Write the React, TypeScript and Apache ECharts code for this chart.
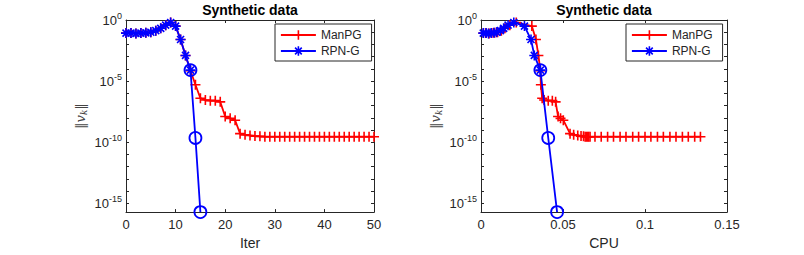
import React, { useEffect, useRef } from 'react';
import * as echarts from 'echarts';

// ---------- data (log10 of ||v_k||) ----------
const rpnIter = [0, 1, 2, 3, 4, 5, 6, 7, 8, 9, 10, 11, 12, 13, 14, 15];
const rpnExp = [-1.07, -1.07, -1.1, -1.07, -1.05, -1.0, -0.87, -0.68, -0.42, -0.2, -0.5, -1.6, -2.9, -4.1, -9.65, -15.72];
const rpnCpu = [0.0014, 0.003, 0.0046, 0.0062, 0.0078, 0.0095, 0.0118, 0.0138, 0.0165, 0.02, 0.0265, 0.0305, 0.0325, 0.0362, 0.041, 0.0464];
const rpnCircleFrom = 13;

const manpgIter = [
  0, 1, 2, 3, 4, 5, 6, 7, 8, 9, 10, 11, 12, 13, 14, 15, 16, 17, 18, 19, 20, 21, 22, 23, 24, 25,
  26, 27, 28, 29, 30, 31, 32, 33, 34, 35, 36, 37, 38, 39, 40, 41, 42, 43, 44, 45, 46, 47, 48, 49, 50,
];
const manpgExp = [
  -1.07, -1.07, -1.1, -1.07, -1.05, -1.0, -0.87, -0.68, -0.42, -0.2, -0.5, -1.6, -2.9,
  -4.15, -5.3, -6.4, -6.55, -6.6, -6.6, -6.7, -7.9, -8.05, -8.2, -9.3, -9.4, -9.45, -9.5, -9.52,
  -9.55, -9.55, -9.55, -9.55, -9.55, -9.55, -9.55, -9.55, -9.55, -9.55, -9.55, -9.55, -9.55,
  -9.55, -9.55, -9.55, -9.55, -9.55, -9.55, -9.55, -9.55, -9.55, -9.55,
];
const manpgCpu = [
  0.0015, 0.0032, 0.0049, 0.0066, 0.0083, 0.0101, 0.0124, 0.0146, 0.0176, 0.0215, 0.031, 0.0335, 0.035,
  0.0362, 0.0365, 0.0373, 0.0385, 0.041, 0.0435, 0.0455, 0.047, 0.0485, 0.0502, 0.0543, 0.0565, 0.059,
  0.061, 0.0625, 0.0635, 0.0643, 0.065, 0.0657, 0.0665, 0.0695, 0.0733, 0.0772, 0.0808, 0.0848, 0.0884,
  0.0925, 0.0961, 0.1, 0.1036, 0.1076, 0.1112, 0.1152, 0.1189, 0.1228, 0.1264, 0.1303, 0.1338,
];

const yBottomExp = -15.72;
const iterTicks = { min: 0, max: 50, interval: 10 };
const cpuTicks = { min: 0, max: 0.15, interval: 0.05 };
const titles = ['Synthetic data', 'Synthetic data'];
const xNames = ['Iter', 'CPU'];
const seriesNames = ['ManPG', 'RPN-G'];

// ---------- styling ----------
const RED = '#ff0000';
const BLUE = '#0000ff';
const AX = '#262626';
const FONT = "'Liberation Sans', Arial, Helvetica, sans-serif";
const PLUS = 'path://M0,-1L0,1M-1,0L1,0';
const STAR = 'path://M0,-1L0,1M-1,0L1,0M-0.7,-0.7L0.7,0.7M-0.7,0.7L0.7,-0.7';

const grids = [
  { left: 126, top: 20, width: 248, height: 199 },
  { left: 481, top: 20, width: 246, height: 199 },
];
const legendLeft = [275, 626];

function yLabel(v: number): string {
  const n = Math.round(v);
  if (Math.abs(v - n) > 1e-6 || n % 5 !== 0) return '';
  return `{b|10}{s|${n === 0 ? '0' : '-' + n}}`;
}

export default function App() {
  const ref = useRef<HTMLDivElement>(null);
  useEffect(() => {
    if (!ref.current) return;
    const chart = echarts.init(ref.current, undefined, { renderer: 'svg' });

    const xAxis: any[] = [];
    const yAxis: any[] = [];
    const series: any[] = [];
    const legend: any[] = [];
    const title: any[] = [];

    [0, 1].forEach((g) => {
      const xt = g === 0 ? iterTicks : cpuTicks;
      const common = {
        type: 'value',
        gridIndex: g,
        axisLine: { show: true, onZero: false, lineStyle: { color: AX, width: 1 } },
        axisTick: { show: true, inside: true, length: 3, lineStyle: { color: AX } },
        splitLine: { show: false },
      };
      xAxis.push({
        ...common,
        min: xt.min,
        max: xt.max,
        interval: xt.interval,
        position: 'bottom',
        axisLabel: { color: AX, fontSize: 13, margin: 6, fontFamily: FONT },
        name: xNames[g],
        nameLocation: 'middle',
        nameGap: 21,
        nameTextStyle: { color: AX, fontSize: 14, fontFamily: FONT },
      });
      xAxis.push({
        ...common,
        min: xt.min,
        max: xt.max,
        interval: xt.interval,
        position: 'top',
        axisLabel: { show: false },
      });
      yAxis.push({
        ...common,
        min: 0,
        max: -yBottomExp,
        interval: 1,
        inverse: true,
        position: 'left',
        axisLabel: {
          formatter: yLabel,
          margin: 4,
          rich: {
            b: { fontSize: 13, color: AX, fontFamily: FONT, lineHeight: 18 },
            s: { fontSize: 9, color: AX, fontFamily: FONT, lineHeight: 10, verticalAlign: 'top' },
          },
        },
        name: '{d|‖}{v|v}{k|k}{d|‖}',
        nameLocation: 'middle',
        nameGap: 38,
        nameRotate: 90,
        nameTextStyle: {
          rich: {
            d: { fontSize: 13, color: '#444', fontFamily: "'DejaVu Serif', serif", lineHeight: 16 },
            v: { fontSize: 13, color: '#444', fontFamily: "'DejaVu Serif', serif", fontStyle: 'italic', lineHeight: 16 },
            k: { fontSize: 9, color: '#444', fontFamily: "'DejaVu Serif', serif", fontStyle: 'italic', lineHeight: 9, verticalAlign: 'bottom' },
          },
        },
      });
      yAxis.push({
        ...common,
        min: 0,
        max: -yBottomExp,
        interval: 1,
        inverse: true,
        position: 'right',
        axisLabel: { show: false },
      });

      const xi = g * 2;
      const mx = g === 0 ? manpgIter : manpgCpu;
      const rx = g === 0 ? rpnIter : rpnCpu;
      series.push({
        type: 'line',
        name: seriesNames[0],
        xAxisIndex: xi,
        yAxisIndex: xi,
        data: mx.map((x, i) => [x, -manpgExp[i]]),
        symbol: PLUS,
        symbolSize: 10,
        lineStyle: { color: RED, width: 1.8 },
        itemStyle: { color: RED, borderColor: RED, borderWidth: 1.6 },
        emphasis: { disabled: true },
        z: 2,
      });
      series.push({
        type: 'line',
        name: seriesNames[1],
        xAxisIndex: xi,
        yAxisIndex: xi,
        data: rx.map((x, i) =>
          i <= rpnCircleFrom ? [x, -rpnExp[i]] : { value: [x, -rpnExp[i]], symbol: 'none' }
        ),
        symbol: STAR,
        symbolSize: 10,
        lineStyle: { color: BLUE, width: 1.8 },
        itemStyle: { color: BLUE, borderColor: BLUE, borderWidth: 1.6 },
        emphasis: { disabled: true },
        z: 3,
      });
      series.push({
        type: 'line',
        name: 'RPN-G final',
        xAxisIndex: xi,
        yAxisIndex: xi,
        data: rx.map((x, i) => [x, -rpnExp[i]]).slice(rpnCircleFrom),
        symbol: 'circle',
        symbolSize: 12,
        lineStyle: { width: 0, opacity: 0 },
        itemStyle: { color: 'rgba(0,0,0,0)', borderColor: BLUE, borderWidth: 1.8 },
        emphasis: { disabled: true },
        z: 4,
      });

      legend.push({
        data: seriesNames,
        orient: 'vertical',
        left: legendLeft[g],
        top: 24,
        padding: [5, 10, 4, 5],
        itemGap: 4,
        itemWidth: 35,
        itemHeight: 12,
        backgroundColor: '#fff',
        borderColor: AX,
        borderWidth: 1,
        borderRadius: 0,
        selectedMode: false,
        lineStyle: { width: 1.8 },
        itemStyle: { borderWidth: 1.6 },
        textStyle: { color: AX, fontSize: 12, fontFamily: FONT, padding: [0, 0, 0, 0] },
      });

      const gr = grids[g];
      title.push({
        text: titles[g],
        left: gr.left + gr.width / 2,
        top: 3,
        padding: 0,
        textAlign: 'center',
        textStyle: { fontSize: 14, fontWeight: 'bold', color: '#000', fontFamily: FONT },
      });
    });

    chart.setOption({
      animation: false,
      backgroundColor: '#fff',
      grid: grids.map((g) => ({ ...g, containLabel: false })),
      title,
      legend,
      xAxis,
      yAxis,
      series,
    });
    return () => chart.dispose();
  }, []);
  return (
    <div
      ref={ref}
      style={{ position: 'fixed', left: 0, top: 0, width: 804, height: 255 }}
    />
  );
}
